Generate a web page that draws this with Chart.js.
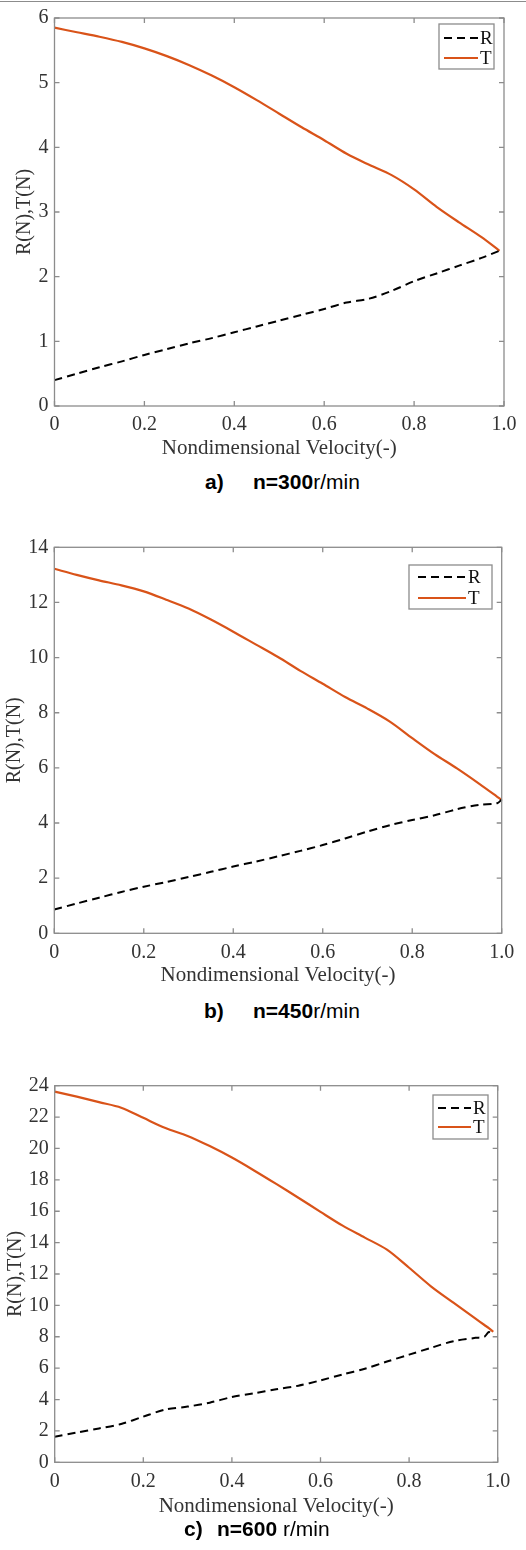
<!DOCTYPE html>
<html>
<head>
<meta charset="utf-8">
<script src="https://cdn.jsdelivr.net/npm/chart.js@4.4.1/dist/chart.umd.min.js"></script>
<style>
  body { margin: 0; background: #fff; width: 526px; height: 1550px; position: relative; overflow: hidden; }
  canvas { position: absolute; left: 0; }
  .topline { position: absolute; left: 0; top: 1px; width: 526px; height: 1px; background: #8c8c8c; }
  .cap { position: absolute; font-family: "Liberation Sans", Arial, sans-serif; font-size: 21px; line-height: 1; color: #000; white-space: pre; }
</style>
</head>
<body>
<div class="topline"></div>
<canvas id="chartA" width="526" height="461" style="top:0px"></canvas>
<canvas id="chartB" width="526" height="468" style="top:520px"></canvas>
<canvas id="chartC" width="526" height="459" style="top:1060px"></canvas>

<div class="cap" style="left:205px;top:471px"><b>a)</b></div>
<div class="cap" style="left:253px;top:471px"><b>n=300</b>r/min</div>
<div class="cap" style="left:204px;top:1000px"><b>b)</b></div>
<div class="cap" style="left:253px;top:1000px"><b>n=450</b>r/min</div>
<div class="cap" style="left:184px;top:1518px"><b>c)</b></div>
<div class="cap" style="left:217px;top:1518px"><b>n=600</b> r/min</div>

<script>
// shared axis stuff
const xTicks = [0, 0.2, 0.4, 0.6, 0.8, 1.0];
const seriesNames = ["R", "T"];

// a) n=300 r/min
const velA = [0, 0.05, 0.1, 0.15, 0.2, 0.25, 0.3, 0.35, 0.4, 0.45, 0.5, 0.55, 0.6, 0.65, 0.7, 0.75, 0.8, 0.85, 0.9, 0.95, 0.99];
const rA = [0.40, 0.50, 0.60, 0.69, 0.79, 0.88, 0.97, 1.05, 1.14, 1.23, 1.32, 1.41, 1.50, 1.60, 1.66, 1.78, 1.93, 2.05, 2.17, 2.29, 2.40];
const tA = [5.85, 5.78, 5.71, 5.63, 5.53, 5.41, 5.27, 5.11, 4.93, 4.73, 4.52, 4.31, 4.11, 3.90, 3.73, 3.57, 3.35, 3.08, 2.84, 2.61, 2.40];
const yTicksA = [0, 1, 2, 3, 4, 5, 6];

// b) n=450 r/min
const velB = [0, 0.05, 0.1, 0.15, 0.2, 0.25, 0.3, 0.35, 0.4, 0.45, 0.5, 0.55, 0.6, 0.65, 0.7, 0.75, 0.8, 0.85, 0.9, 0.95, 0.99, 1.0];
const rB = [0.86, 1.08, 1.29, 1.50, 1.69, 1.86, 2.04, 2.23, 2.42, 2.60, 2.79, 2.99, 3.20, 3.44, 3.69, 3.92, 4.11, 4.28, 4.50, 4.66, 4.72, 4.85];
const tB = [13.22, 13.00, 12.80, 12.62, 12.40, 12.10, 11.78, 11.38, 10.94, 10.48, 10.02, 9.52, 9.05, 8.57, 8.15, 7.68, 7.08, 6.50, 5.98, 5.42, 4.95, 4.83];
const yTicksB = [0, 2, 4, 6, 8, 10, 12, 14];

// c) n=600 r/min
const velC = [0, 0.05, 0.1, 0.15, 0.2, 0.25, 0.3, 0.35, 0.4, 0.45, 0.5, 0.55, 0.6, 0.65, 0.7, 0.75, 0.8, 0.85, 0.9, 0.95, 0.97, 0.98, 0.99];
const rC = [1.63, 1.90, 2.16, 2.44, 2.91, 3.36, 3.55, 3.80, 4.16, 4.40, 4.65, 4.88, 5.22, 5.60, 5.96, 6.42, 6.86, 7.30, 7.72, 7.93, 8.00, 8.30, 8.12];
const tC = [23.62, 23.30, 22.95, 22.60, 21.95, 21.30, 20.80, 20.15, 19.42, 18.60, 17.74, 16.86, 15.96, 15.08, 14.32, 13.55, 12.40, 11.20, 10.17, 9.15, 8.75, 8.55, 8.32];
const yTicksC = [0, 2, 4, 6, 8, 10, 12, 14, 16, 18, 20, 22, 24];

const serif = "'Liberation Serif', 'Times New Roman', serif";
const frameColor = "#8c8c8c";
const textColor = "#333";

// box round the plot with inward ticks on all four sides
const framePlugin = {
  id: "frame",
  afterDatasetsDraw(chart) {
    const { ctx, chartArea: a, scales: { x, y } } = chart;
    ctx.save();
    ctx.strokeStyle = frameColor;
    ctx.lineWidth = 1.3;
    ctx.beginPath();
    x.ticks.forEach(t => {
      const px = x.getPixelForValue(t.value);
      ctx.moveTo(px, a.bottom); ctx.lineTo(px, a.bottom - 5);
      ctx.moveTo(px, a.top); ctx.lineTo(px, a.top + 5);
    });
    y.ticks.forEach(t => {
      const py = y.getPixelForValue(t.value);
      ctx.moveTo(a.left, py); ctx.lineTo(a.left + 5, py);
      ctx.moveTo(a.right, py); ctx.lineTo(a.right - 5, py);
    });
    ctx.stroke();
    ctx.strokeRect(a.left, a.top, a.right - a.left, a.bottom - a.top);
    ctx.restore();
  }
};

// matlab-ish legend box
const boxLegend = {
  id: "boxLegend",
  afterDraw(chart, args, o) {
    const ctx = chart.ctx;
    ctx.save();
    ctx.fillStyle = "#fff";
    ctx.fillRect(o.left, o.top, o.width, o.height);
    ctx.strokeStyle = frameColor;
    ctx.lineWidth = 1.3;
    ctx.strokeRect(o.left, o.top, o.width, o.height);
    ctx.font = "19px " + serif;
    ctx.textBaseline = "middle";
    chart.data.datasets.forEach((ds, i) => {
      const yy = o.rows[i];
      ctx.strokeStyle = ds.borderColor;
      ctx.lineWidth = ds.borderWidth;
      ctx.setLineDash(ds.borderDash || []);
      ctx.beginPath();
      ctx.moveTo(o.sampleLeft, yy);
      ctx.lineTo(o.sampleLeft + o.sampleLen, yy);
      ctx.stroke();
      ctx.setLineDash([]);
      ctx.fillStyle = "#111";
      ctx.fillText(ds.label, o.sampleLeft + o.sampleLen + 2, yy + 1);
    });
    ctx.restore();
  }
};

function makeChart(id, vel, r, t, yTicks, lay) {
  const canvas = document.getElementById(id);
  const H = canvas.height;
  const pts = arr => vel.map((v, i) => ({ x: v, y: arr[i] }));
  return new Chart(canvas, {
    type: "line",
    data: {
      datasets: [
        { label: seriesNames[0], data: pts(r), borderColor: "#000", borderWidth: 2, borderDash: [8, 5], pointRadius: 0, tension: 0.3, clip: false },
        { label: seriesNames[1], data: pts(t), borderColor: "#D95319", borderWidth: 2.2, pointRadius: 0, tension: 0.3, clip: false }
      ]
    },
    options: {
      responsive: false,
      animation: false,
      devicePixelRatio: 1,
      layout: { padding: { left: 0, top: lay.top, right: 526 - lay.right, bottom: 0 } },
      plugins: {
        legend: { display: false },
        tooltip: { enabled: false },
        boxLegend: lay.legend
      },
      scales: {
        x: {
          type: "linear",
          min: 0, max: 1,
          grid: { display: false, drawTicks: false },
          border: { display: false },
          afterBuildTicks: s => { s.ticks = xTicks.map(v => ({ value: v })); },
          afterFit: s => { s.height = H - lay.bottom; },
          ticks: {
            color: textColor, padding: 7, maxRotation: 0, autoSkip: false,
            font: { family: serif, size: 20 },
            callback: v => (v === 0 ? "0" : v.toFixed(1))
          },
          title: {
            display: true, text: "Nondimensional Velocity(-)", color: textColor,
            font: { family: serif, size: 21 }, padding: { top: 0, bottom: 0 }
          }
        },
        y: {
          min: yTicks[0], max: yTicks[yTicks.length - 1],
          grid: { display: false, drawTicks: false },
          border: { display: false },
          afterBuildTicks: s => { s.ticks = yTicks.map(v => ({ value: v })); },
          afterFit: s => { s.width = lay.left; },
          ticks: {
            color: textColor, padding: 6, autoSkip: false,
            font: { family: serif, size: 20 }
          },
          title: {
            display: true, text: "R(N),T(N)", color: textColor,
            font: { family: serif, size: 20 }, padding: { top: lay.yTitle - 12, bottom: 0 }
          }
        }
      }
    },
    plugins: [framePlugin, boxLegend]
  });
}

makeChart("chartA", velA, rA, tA, yTicksA, {
  left: 54.5, top: 14, right: 504, bottom: 406, yTitle: 25,
  legend: { left: 439, top: 24, width: 55, height: 45, sampleLeft: 444, sampleLen: 34, rows: [38, 58] }
});
makeChart("chartB", velB, rB, tB, yTicksB, {
  left: 54.3, top: 27.3, right: 501.7, bottom: 413.3, yTitle: 15,
  legend: { left: 409, top: 45, width: 83, height: 44, sampleLeft: 418, sampleLen: 48, rows: [57, 78] }
});
makeChart("chartC", velC, rC, tC, yTicksC, {
  left: 54.7, top: 25.7, right: 497.7, bottom: 402.3, yTitle: 16,
  legend: { left: 433, top: 35, width: 55, height: 44, sampleLeft: 438, sampleLen: 33, rows: [48, 67] }
});
</script>
</body>
</html>
